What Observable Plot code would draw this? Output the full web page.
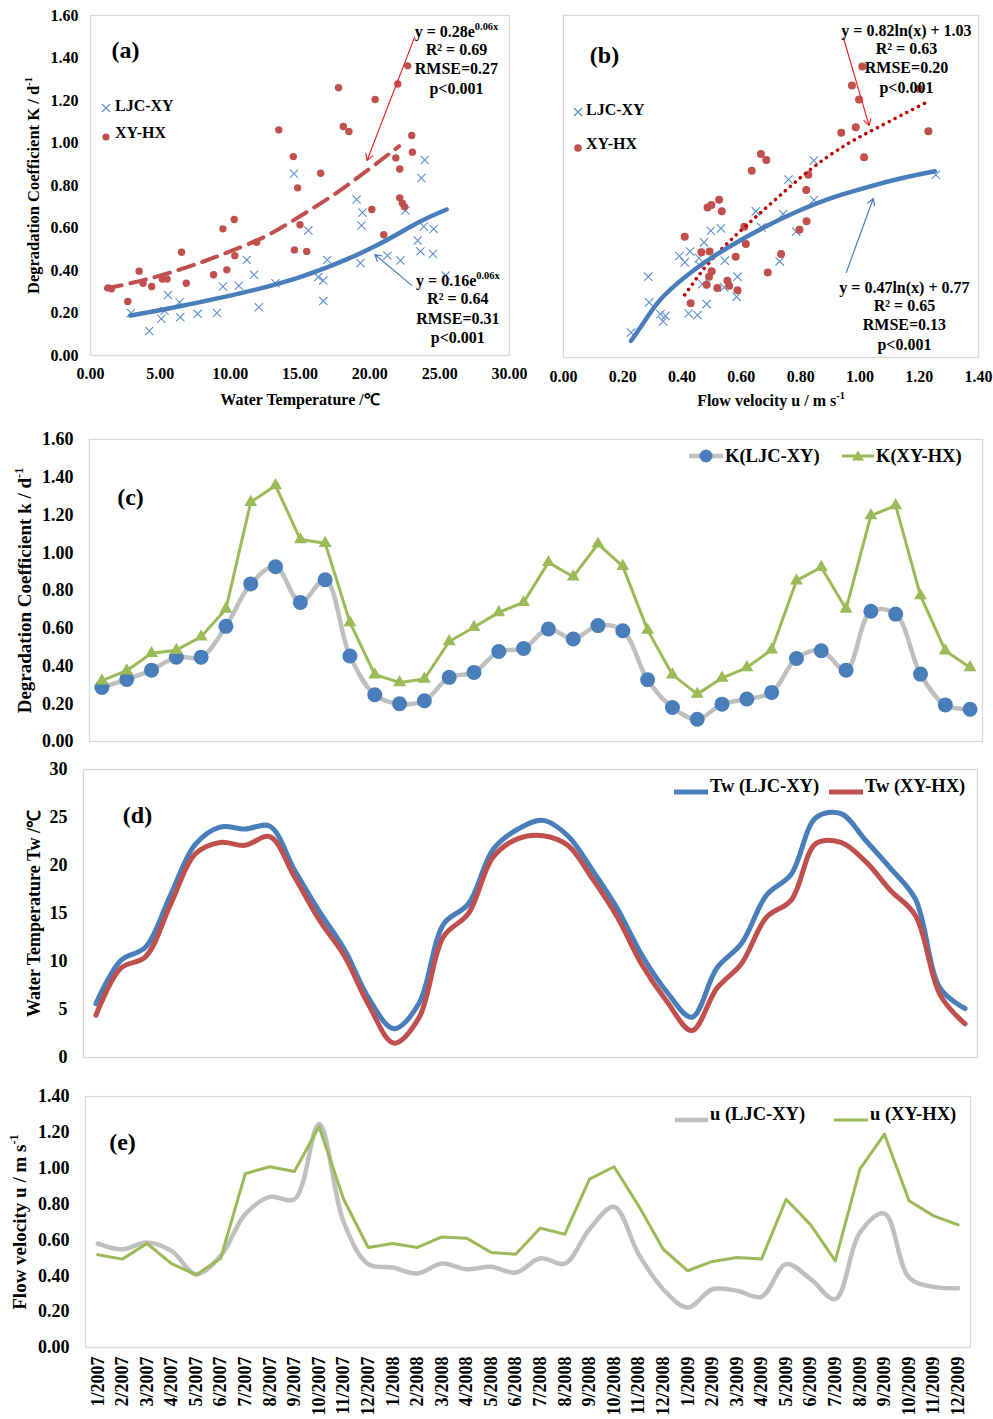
<!DOCTYPE html>
<html><head><meta charset="utf-8">
<script src="https://cdn.jsdelivr.net/npm/d3@7"></script>
<script src="https://cdn.jsdelivr.net/npm/@observablehq/plot@0.6"></script>
<style>
body{margin:0;background:#fff;}
#root{position:relative;width:993px;height:1419px;overflow:hidden;font-family:"Liberation Serif","Times New Roman",serif;font-weight:bold;color:#000;}
.panel{position:absolute;}
.leg{position:absolute;white-space:nowrap;line-height:1;}
.sw{position:absolute;}
</style></head><body><div id="root"></div>
<script>
// ---------- shared categories / ticks ----------
const months = ["1/2007","2/2007","3/2007","4/2007","5/2007","6/2007","7/2007","8/2007","9/2007","10/2007","11/2007","12/2007",
"1/2008","2/2008","3/2008","4/2008","5/2008","6/2008","7/2008","8/2008","9/2008","10/2008","11/2008","12/2008",
"1/2009","2/2009","3/2009","4/2009","5/2009","6/2009","7/2009","8/2009","9/2009","10/2009","11/2009","12/2009"];
const tempTicks = [0,5,10,15,20,25,30];
const kTicks = [0,0.2,0.4,0.6,0.8,1.0,1.2,1.4,1.6];
const uTicksB = [0,0.2,0.4,0.6,0.8,1.0,1.2,1.4];
const twTicks = [0,5,10,15,20,25,30];
const uTicksE = [0,0.2,0.4,0.6,0.8,1.0,1.2,1.4];

// ---------- panel (a): K vs water temperature ----------
const aLjcTemp = [2.9,4.21,5.07,5.55,5.3,6.38,6.43,7.67,9.05,9.48,10.62,11.19,11.71,12.05,13.24,14.57,15.6,16.31,16.67,16.67,16.95,19.05,19.48,19.4,19.33,21.26,22.19,22.55,23.43,23.62,23.69,23.93,23.86,24.57,24.52,25.43];
const aLjcK    = [0.20,0.115,0.173,0.285,0.21,0.25,0.18,0.196,0.20,0.325,0.328,0.45,0.38,0.227,0.34,0.855,0.588,0.369,0.353,0.256,0.45,0.734,0.673,0.612,0.435,0.47,0.447,0.682,0.541,0.49,0.835,0.92,0.607,0.595,0.478,0.376];
const aHxTemp = [1.26,1.5,2.67,3.48,3.76,4.38,5.14,5.48,6.52,6.86,8.81,9.48,9.76,10.33,10.29,11.9,13.48,14.52,14.6,14.83,15.0,15.48,16.48,17.76,18.1,18.5,20.14,20.38,21.0,21.86,22.0,22.14,22.14,22.33,22.48,22.71,23.0,23.05];
const aHxK    = [0.318,0.314,0.254,0.397,0.34,0.325,0.36,0.36,0.486,0.34,0.38,0.596,0.403,0.47,0.64,0.533,1.062,0.936,0.497,0.789,0.615,0.49,0.858,1.26,1.078,1.054,0.687,1.205,0.568,0.93,1.278,0.878,0.742,0.717,0.70,1.363,1.035,0.957];
const aFitHxT = [1.1,3.5,5.7,8,10,12.5,15,17.5,20,22.1];
const aFitHxK = [0.315,0.35,0.39,0.44,0.49,0.56,0.655,0.76,0.88,0.985];
const aFitLjcT = [2.86,5.5,10,15,20,23.3,25.5];
const aFitLjcK = [0.188,0.22,0.282,0.369,0.502,0.62,0.687];
const aNotesHx = [{x:26.2,y:1.525,t:"y = 0.28e^{0.06x}"},{x:26.2,y:1.44,t:"R² = 0.69"},{x:26.2,y:1.35,t:"RMSE=0.27"},{x:26.2,y:1.257,t:"p<0.001"}];
const aNotesLjc = [{x:26.3,y:0.353,t:"y = 0.16e^{0.06x}"},{x:26.3,y:0.268,t:"R² = 0.64"},{x:26.3,y:0.174,t:"RMSE=0.31"},{x:26.3,y:0.085,t:"p<0.001"}];
const aArrowHx = [{x1:23.2,y1:1.497,x2:19.8,y2:0.918}];
const aArrowLjc = [{x1:23.0,y1:0.33,x2:20.36,y2:0.475}];

// ---------- panel (b): K vs flow velocity ----------
const bLjcU = [0.228,0.286,0.289,0.327,0.336,0.344,0.391,0.409,0.422,0.427,0.452,0.457,0.461,0.469,0.474,0.483,0.497,0.531,0.542,0.544,0.587,0.584,0.649,0.668,0.729,0.741,0.759,0.785,0.845,0.845,1.256];
const bLjcK = [0.117,0.378,0.258,0.203,0.169,0.195,0.475,0.445,0.206,0.496,0.198,0.465,0.429,0.343,0.539,0.25,0.593,0.604,0.328,0.453,0.378,0.284,0.684,0.609,0.45,0.671,0.832,0.589,0.921,0.737,0.855];
const bHxU = [0.409,0.429,0.465,0.483,0.486,0.499,0.493,0.491,0.5,0.519,0.525,0.534,0.553,0.559,0.581,0.587,0.61,0.615,0.635,0.666,0.684,0.689,0.734,0.796,0.82,0.819,0.826,0.937,0.973,0.986,0.997,1.008,1.014,1.199,1.231];
const bHxK = [0.565,0.254,0.492,0.34,0.702,0.713,0.496,0.378,0.403,0.325,0.738,0.684,0.359,0.336,0.471,0.315,0.612,0.531,0.874,0.952,0.924,0.398,0.484,0.598,0.637,0.784,0.855,1.052,1.272,1.077,1.207,1.361,0.937,1.257,1.058];
const bFitLjcU = [0.228,0.282,0.339,0.452,0.565,0.677,0.79,0.903,1.016,1.129,1.253];
const bFitLjcK = [0.078,0.187,0.289,0.421,0.523,0.609,0.684,0.746,0.793,0.835,0.871];
const bFitHxU = [0.409,0.497,0.61,0.723,0.835,0.948,1.061,1.225];
const bFitHxK = [0.293,0.453,0.609,0.749,0.882,0.991,1.077,1.194];
const bNotesHx = [{x:1.157,y:1.53,t:"y = 0.82ln(x) + 1.03"},{x:1.157,y:1.446,t:"R² = 0.63"},{x:1.157,y:1.357,t:"RMSE=0.20"},{x:1.157,y:1.263,t:"p<0.001"}];
const bNotesLjc = [{x:1.15,y:0.327,t:"y = 0.47ln(x) + 0.77"},{x:1.15,y:0.243,t:"R² = 0.65"},{x:1.15,y:0.154,t:"RMSE=0.13"},{x:1.15,y:0.061,t:"p<0.001"}];
const bArrowHx = [{x1:0.944,y1:1.497,x2:1.031,y2:1.085}];
const bArrowLjc = [{x1:0.954,y1:0.398,x2:1.045,y2:0.744}];

// ---------- panel (c): monthly K ----------
const cLjc = [0.286,0.329,0.378,0.447,0.447,0.61,0.835,0.926,0.737,0.857,0.453,0.248,0.2,0.216,0.34,0.366,0.477,0.493,0.596,0.543,0.614,0.587,0.327,0.18,0.118,0.198,0.225,0.26,0.44,0.481,0.378,0.69,0.675,0.357,0.194,0.171];
const cHx  = [0.322,0.375,0.468,0.484,0.555,0.702,1.268,1.356,1.07,1.05,0.631,0.354,0.313,0.331,0.53,0.605,0.684,0.737,0.949,0.873,1.047,0.928,0.59,0.354,0.251,0.336,0.392,0.486,0.852,0.923,0.702,1.197,1.25,0.773,0.481,0.392];

// ---------- panel (d): monthly water temperature ----------
const dLjc = [5.6,10.1,11.5,16.9,22.2,24.0,23.8,24.1,19.5,15.2,11.3,6.1,3.0,5.6,13.9,16.0,21.7,23.8,24.7,23.1,19.5,15.5,10.6,6.8,4.2,9.3,11.9,16.9,19.1,25.0,25.4,22.6,19.7,16.5,7.2,5.1];
const dHx  = [4.4,9.3,10.5,15.9,21.2,22.4,22.1,23.0,18.8,14.3,10.6,5.4,1.5,4.1,12.6,15.0,20.9,22.8,23.1,22.1,18.6,14.6,9.6,5.8,2.8,7.2,9.8,14.6,16.4,22.3,22.4,20.4,17.4,14.8,6.5,3.5];

// ---------- panel (e): monthly flow velocity ----------
const eLjc = [0.58,0.548,0.586,0.539,0.409,0.511,0.744,0.84,0.827,1.246,0.70,0.465,0.446,0.413,0.468,0.437,0.45,0.418,0.498,0.468,0.66,0.785,0.52,0.325,0.223,0.325,0.316,0.283,0.465,0.381,0.27,0.641,0.747,0.39,0.338,0.331];
const eHx  = [0.517,0.493,0.58,0.468,0.405,0.498,0.97,1.008,0.982,1.233,0.827,0.558,0.58,0.558,0.617,0.61,0.53,0.52,0.666,0.632,0.939,1.008,0.79,0.548,0.428,0.48,0.502,0.493,0.827,0.684,0.483,0.995,1.19,0.818,0.734,0.684];

// ---------- labels ----------
const yLabelA = "Degradation Coefficient K / d^{-1}";
const xLabelA = "Water Temperature /℃";
const xLabelB = "Flow velocity u / m s^{-1}";
const yLabelC = "Degradation Coefficient k / d^{-1}";
const yLabelD = "Water Temperature Tw /℃";
const yLabelE = "Flow velocity u / m s^{-1}";

// ---------- helpers ----------
const root = document.getElementById("root");
const BLUE = "#4a7ebb", BLUEX = "#5b8fd0", RED = "#c0504d", GREEN = "#9bbb59", GRAY = "#bfbfbf", DRED = "#c00000";
const fmt2 = d3.format(".2f");
const base = {fontFamily: '"Liberation Serif","Times New Roman",serif', fontWeight: "bold", background: "none", overflow: "visible"};
const zip = (xs, ys, kx, ky) => xs.map((v, i) => ({[kx]: v, [ky]: ys[i]}));
const monthIdx = months.map((m, i) => i);
const monthX = {domain: [-0.5, months.length - 0.5], axis: null};

function supers(svg) {
  const ns = "http://www.w3.org/2000/svg";
  svg.querySelectorAll("text").forEach(el => {
    const m = el.textContent.match(/^(.*)\^\{(.*)\}$/);
    if (!m) return;
    while (el.firstChild) el.removeChild(el.firstChild);
    const a = document.createElementNS(ns, "tspan"); a.textContent = m[1]; el.appendChild(a);
    const b = document.createElementNS(ns, "tspan"); b.textContent = m[2];
    b.style.fontSize = "0.65em"; b.setAttribute("dy", "-0.6em"); el.appendChild(b);
  });
}
function place(svg, left, top) {
  const d = document.createElement("div");
  d.className = "panel"; d.style.left = left + "px"; d.style.top = top + "px";
  d.appendChild(svg); root.appendChild(d); supers(svg);
}
function legText(left, cy, text, size) {
  const d = document.createElement("div");
  d.className = "leg"; d.style.left = left + "px"; d.style.top = (cy - size / 2) + "px";
  d.style.fontSize = size + "px"; d.textContent = text; root.appendChild(d);
}
function swatch(cx, cy, w, h, inner) {
  const d = document.createElement("div");
  d.className = "sw"; d.style.left = (cx - w / 2) + "px"; d.style.top = (cy - h / 2) + "px";
  d.innerHTML = `<svg width="${w}" height="${h}" viewBox="${-w/2} ${-h/2} ${w} ${h}">${inner}</svg>`;
  root.appendChild(d);
}

// ---------- (a) ----------
place(Plot.plot({
  width: 530, height: 410, marginLeft: 90, marginRight: 21, marginTop: 15, marginBottom: 55,
  style: {...base, fontSize: "16px"},
  x: {domain: [0, 30]}, y: {domain: [0, 1.6]},
  marks: [
    Plot.frame({stroke: "#d9d9d9", strokeWidth: 1.3}),
    Plot.axisX({ticks: tempTicks, tickFormat: fmt2, tickSize: 0, tickPadding: 12, label: null}),
    Plot.axisY({ticks: kTicks, tickFormat: fmt2, tickSize: 0, tickPadding: 12, label: null}),
    Plot.dot(zip(aLjcTemp, aLjcK, "t", "k"), {x: "t", y: "k", symbol: "times", r: 3.8, stroke: BLUEX, strokeWidth: 1.1}),
    Plot.dot(zip(aHxTemp, aHxK, "t", "k"), {x: "t", y: "k", r: 3.7, fill: RED}),
    Plot.line(zip(aFitHxT, aFitHxK, "t", "k"), {x: "t", y: "k", curve: "natural", stroke: RED, strokeWidth: 4, strokeDasharray: "16 9"}),
    Plot.line(zip(aFitLjcT, aFitLjcK, "t", "k"), {x: "t", y: "k", curve: "natural", stroke: BLUE, strokeWidth: 4.5, strokeLinecap: "round"}),
    Plot.arrow(aArrowHx, {x1: "x1", y1: "y1", x2: "x2", y2: "y2", stroke: "#e8262a", strokeWidth: 1.2, headLength: 9}),
    Plot.arrow(aArrowLjc, {x1: "x1", y1: "y1", x2: "x2", y2: "y2", stroke: BLUE, strokeWidth: 1.2, headLength: 9}),
    Plot.text(aNotesHx, {x: "x", y: "y", text: "t", fontSize: 16, textAnchor: "middle", lineAnchor: "middle"}),
    Plot.text(aNotesLjc, {x: "x", y: "y", text: "t", fontSize: 16, textAnchor: "middle", lineAnchor: "middle"}),
    Plot.text(["(a)"], {text: d => d, frameAnchor: "top-left", dx: 35, dy: 35, fontSize: 24, textAnchor: "middle", lineAnchor: "middle"}),
    Plot.text([yLabelA], {text: d => d, frameAnchor: "left", dx: -57, rotate: -90, fontSize: 16.5, textAnchor: "middle", lineAnchor: "middle"}),
    Plot.text([xLabelA], {text: d => d, frameAnchor: "bottom", dy: 44, fontSize: 16, textAnchor: "middle", lineAnchor: "middle"})
  ]
}), 0, 0);

// ---------- (b) ----------
place(Plot.plot({
  width: 463, height: 410, marginLeft: 33, marginRight: 15, marginTop: 15, marginBottom: 53,
  style: {...base, fontSize: "16px"},
  x: {domain: [0, 1.4]}, y: {domain: [0, 1.6], axis: null},
  marks: [
    Plot.frame({stroke: "#d9d9d9", strokeWidth: 1.3}),
    Plot.axisX({ticks: uTicksB, tickFormat: fmt2, tickSize: 0, tickPadding: 13, label: null}),
    Plot.dot(zip(bLjcU, bLjcK, "u", "k"), {x: "u", y: "k", symbol: "times", r: 3.9, stroke: BLUEX, strokeWidth: 1.1}),
    Plot.dot(zip(bHxU, bHxK, "u", "k"), {x: "u", y: "k", r: 4, fill: RED}),
    Plot.line(zip(bFitHxU, bFitHxK, "u", "k"), {x: "u", y: "k", curve: "natural", stroke: DRED, strokeWidth: 3.5, strokeDasharray: "0.1 6.5", strokeLinecap: "round"}),
    Plot.line(zip(bFitLjcU, bFitLjcK, "u", "k"), {x: "u", y: "k", curve: "natural", stroke: BLUE, strokeWidth: 4.5, strokeLinecap: "round"}),
    Plot.arrow(bArrowHx, {x1: "x1", y1: "y1", x2: "x2", y2: "y2", stroke: "#e8262a", strokeWidth: 1.2, headLength: 9}),
    Plot.arrow(bArrowLjc, {x1: "x1", y1: "y1", x2: "x2", y2: "y2", stroke: BLUE, strokeWidth: 1.2, headLength: 9}),
    Plot.text(bNotesHx, {x: "x", y: "y", text: "t", fontSize: 16, textAnchor: "middle", lineAnchor: "middle"}),
    Plot.text(bNotesLjc, {x: "x", y: "y", text: "t", fontSize: 16, textAnchor: "middle", lineAnchor: "middle"}),
    Plot.text(["(b)"], {text: d => d, frameAnchor: "top-left", dx: 41, dy: 40, fontSize: 24, textAnchor: "middle", lineAnchor: "middle"}),
    Plot.text([xLabelB], {text: d => d, frameAnchor: "bottom", dy: 43, fontSize: 16, textAnchor: "middle", lineAnchor: "middle"})
  ]
}), 530, 0);

// ---------- (c) ----------
const cTable = months.map((m, i) => ({i, ljc: cLjc[i], hx: cHx[i]}));
place(Plot.plot({
  width: 993, height: 330, marginLeft: 89, marginRight: 11, marginTop: 19, marginBottom: 9,
  style: {...base, fontSize: "18px"},
  x: monthX,
  y: {domain: [0, 1.6]},
  marks: [
    Plot.frame({stroke: "#d9d9d9", strokeWidth: 1.3}),
    Plot.axisY({ticks: kTicks, tickFormat: fmt2, tickSize: 0, tickPadding: 16, label: null}),
    Plot.line(cTable, {x: "i", y: "ljc", curve: "catmull-rom", stroke: GRAY, strokeWidth: 4.5}),
    Plot.line(cTable, {x: "i", y: "hx", stroke: GREEN, strokeWidth: 3}),
    Plot.dot(cTable, {x: "i", y: "ljc", r: 7.5, fill: BLUE}),
    Plot.dot(cTable, {x: "i", y: "hx", symbol: "triangle", r: 4.8, fill: GREEN}),
    Plot.text(["(c)"], {text: d => d, frameAnchor: "top-left", dx: 41, dy: 58, fontSize: 24, textAnchor: "middle", lineAnchor: "middle"}),
    Plot.text([yLabelC], {text: d => d, frameAnchor: "left", dx: -65, rotate: -90, fontSize: 19, textAnchor: "middle", lineAnchor: "middle"})
  ]
}), 0, 420);

// ---------- (d) ----------
const dTable = months.map((m, i) => ({i, ljc: dLjc[i], hx: dHx[i]}));
place(Plot.plot({
  width: 993, height: 315, marginLeft: 83, marginRight: 16, marginTop: 14, marginBottom: 13,
  style: {...base, fontSize: "18px"},
  x: monthX,
  y: {domain: [0, 30]},
  marks: [
    Plot.frame({stroke: "#d9d9d9", strokeWidth: 1.3}),
    Plot.axisY({ticks: twTicks, tickFormat: d3.format("d"), tickSize: 0, tickPadding: 16, label: null}),
    Plot.line(dTable, {x: "i", y: "ljc", curve: "catmull-rom", stroke: BLUE, strokeWidth: 5}),
    Plot.line(dTable, {x: "i", y: "hx", curve: "catmull-rom", stroke: RED, strokeWidth: 5}),
    Plot.text(["(d)"], {text: d => d, frameAnchor: "top-left", dx: 54, dy: 46, fontSize: 24, textAnchor: "middle", lineAnchor: "middle"}),
    Plot.text([yLabelD], {text: d => d, frameAnchor: "left", dx: -49, rotate: -90, fontSize: 18, textAnchor: "middle", lineAnchor: "middle"})
  ]
}), 0, 755);

// ---------- (e) ----------
const eTable = months.map((m, i) => ({i, ljc: eLjc[i], hx: eHx[i]}));
place(Plot.plot({
  width: 993, height: 339, marginLeft: 85, marginRight: 23, marginTop: 16, marginBottom: 72,
  style: {...base, fontSize: "18px"},
  x: monthX,
  y: {domain: [0, 1.4]},
  marks: [
    Plot.frame({stroke: "#d9d9d9", strokeWidth: 1.3}),
    Plot.axisX({ticks: monthIdx, tickFormat: i => months[i], tickRotate: -90, tickSize: 0, tickPadding: 9, label: null}),
    Plot.axisY({ticks: uTicksE, tickFormat: fmt2, tickSize: 0, tickPadding: 16, label: null}),
    Plot.line(eTable, {x: "i", y: "ljc", curve: "catmull-rom", stroke: GRAY, strokeWidth: 4.5}),
    Plot.line(eTable, {x: "i", y: "hx", stroke: GREEN, strokeWidth: 3}),
    Plot.text(["(e)"], {text: d => d, frameAnchor: "top-left", dx: 37, dy: 46, fontSize: 24, textAnchor: "middle", lineAnchor: "middle"}),
    Plot.text([yLabelE], {text: d => d, frameAnchor: "left", dx: -66, rotate: -90, fontSize: 19, textAnchor: "middle", lineAnchor: "middle"})
  ]
}), 0, 1080);

// ---------- legends ----------
const timesSym = c => `<path d="M-4,-4L4,4M-4,4L4,-4" stroke="${c}" stroke-width="1.2" fill="none"/>`;
const dotSym = (c, r) => `<circle r="${r}" fill="${c}"/>`;
const lineSym = (w, c, sw) => `<line x1="${-w/2}" x2="${w/2}" y1="0" y2="0" stroke="${c}" stroke-width="${sw}"/>`;
const triSym = c => `<path d="M0,-5.5L6,4.5L-6,4.5Z" fill="${c}"/>`;
// (a)
swatch(106, 106, 12, 12, timesSym(BLUEX)); legText(115, 106, "LJC-XY", 16);
swatch(106, 133, 10, 10, dotSym(RED, 3.6)); legText(115, 133, "XY-HX", 16);
// (b)
swatch(578, 110, 12, 12, timesSym(BLUEX)); legText(586, 110, "LJC-XY", 16);
swatch(578, 144, 10, 10, dotSym(RED, 3.8)); legText(586, 144, "XY-HX", 16);
// (c)
swatch(706, 456, 36, 18, lineSym(34, GRAY, 4.5) + dotSym(BLUE, 6.5)); legText(725, 456, "K(LJC-XY)", 18.5);
swatch(858, 456, 34, 16, lineSym(32, GREEN, 3) + triSym(GREEN)); legText(876, 456, "K(XY-HX)", 18.5);
// (d)
swatch(691, 786, 34, 8, lineSym(34, BLUE, 5)); legText(710, 786, "Tw (LJC-XY)", 18.5);
swatch(846, 786, 34, 8, lineSym(34, RED, 5)); legText(865, 786, "Tw (XY-HX)", 18.5);
// (e)
swatch(691, 1114, 33, 8, lineSym(33, GRAY, 4.5)); legText(710, 1114, "u (LJC-XY)", 18.5);
swatch(851, 1114, 34, 8, lineSym(34, GREEN, 3)); legText(870, 1114, "u (XY-HX)", 18.5);
</script>
</body></html>
